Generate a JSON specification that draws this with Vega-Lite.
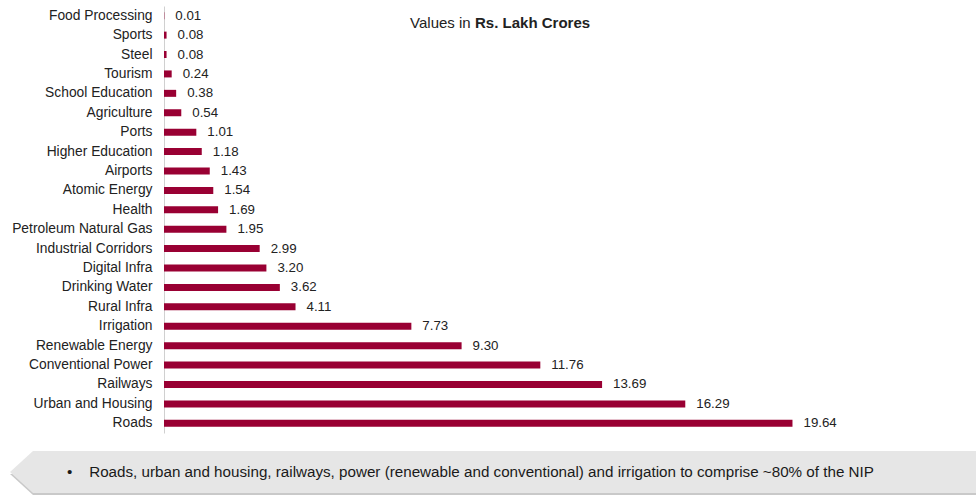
{
  "$schema": "https://vega.github.io/schema/vega-lite/v6.json",
  "padding": {"left": 10, "top": 6, "right": 0, "bottom": 0},
  "background": "white",
  "spacing": 18,
  "config": {"view": {"stroke": null}, "font": "Liberation Sans"},
  "datasets": {
    "nip": [
      {"sector": "Food Processing", "value": 0.01},
      {"sector": "Sports", "value": 0.08},
      {"sector": "Steel", "value": 0.08},
      {"sector": "Tourism", "value": 0.24},
      {"sector": "School Education", "value": 0.38},
      {"sector": "Agriculture", "value": 0.54},
      {"sector": "Ports", "value": 1.01},
      {"sector": "Higher Education", "value": 1.18},
      {"sector": "Airports", "value": 1.43},
      {"sector": "Atomic Energy", "value": 1.54},
      {"sector": "Health", "value": 1.69},
      {"sector": "Petroleum Natural Gas", "value": 1.95},
      {"sector": "Industrial Corridors", "value": 2.99},
      {"sector": "Digital Infra", "value": 3.20},
      {"sector": "Drinking Water", "value": 3.62},
      {"sector": "Rural Infra", "value": 4.11},
      {"sector": "Irrigation", "value": 7.73},
      {"sector": "Renewable Energy", "value": 9.30},
      {"sector": "Conventional Power", "value": 11.76},
      {"sector": "Railways", "value": 13.69},
      {"sector": "Urban and Housing", "value": 16.29},
      {"sector": "Roads", "value": 19.64}
    ]
  },
  "vconcat": [
    {
      "width": 800,
      "height": 427,
      "data": {"name": "nip"},
      "encoding": {
        "y": {
          "field": "sector",
          "type": "nominal",
          "sort": null,
          "scale": {"paddingInner": 0, "paddingOuter": 0},
          "axis": {
            "title": null,
            "ticks": false,
            "tickSize": 0,
            "labelPadding": 12,
            "labelFontSize": 13.8,
            "labelColor": "#222222",
            "labelFont": "Liberation Sans",
            "domainColor": "#D0D0D0",
            "domainWidth": 1,
            "grid": false
          }
        },
        "x": {
          "field": "value",
          "type": "quantitative",
          "scale": {"domain": [0, 25], "nice": false},
          "axis": null
        }
      },
      "layer": [
        {"mark": {"type": "bar", "color": "#990033", "size": 7}},
        {
          "mark": {"type": "text", "align": "left", "baseline": "middle", "dx": 11, "fontSize": 13.3, "color": "#222222"},
          "encoding": {"text": {"field": "value", "type": "quantitative", "format": ".2f"}}
        },
        {
          "transform": [{"filter": "datum.sector === 'Food Processing'"}],
          "mark": {"type": "text", "align": "left", "baseline": "middle", "dy": 7, "fontSize": 15, "color": "#222222"},
          "encoding": {
            "x": {"datum": 7.69, "type": "quantitative"},
            "text": {"value": "Values in"}
          }
        },
        {
          "transform": [{"filter": "datum.sector === 'Food Processing'"}],
          "mark": {"type": "text", "align": "left", "baseline": "middle", "dy": 7, "fontSize": 15, "fontWeight": "bold", "color": "#222222"},
          "encoding": {
            "x": {"datum": 9.72, "type": "quantitative"},
            "text": {"value": "Rs. Lakh Crores"}
          }
        }
      ]
    },
    {
      "width": 812,
      "height": 42,
      "data": {"values": [{"t": "•\u00a0\u00a0\u00a0\u00a0Roads, urban and housing, railways, power (renewable and conventional) and irrigation to comprise ~80% of the NIP"}]},
      "encoding": {
        "x": {"datum": 0, "type": "quantitative", "scale": {"domain": [0, 1], "nice": false}, "axis": null},
        "y": {"datum": 0.5, "type": "quantitative", "scale": {"domain": [0, 1], "nice": false}, "axis": null}
      },
      "layer": [
        {
          "mark": {"type": "point", "shape": "M-154,2L-131,23L812,23L812,2Z", "size": 4, "filled": true, "color": "#C9C9C9", "opacity": 1, "strokeWidth": 0}
        },
        {
          "mark": {"type": "point", "shape": "M-154,0L-131,-21L812,-21L812,21L-131,21Z", "size": 4, "filled": true, "color": "#E6E6E6", "opacity": 1, "strokeWidth": 0}
        },
        {
          "mark": {"type": "text", "align": "left", "baseline": "middle", "fontSize": 15.2, "color": "#1A1A1A"},
          "encoding": {
            "x": {"datum": -0.1195, "type": "quantitative"},
            "text": {"field": "t"}
          }
        }
      ]
    }
  ]
}
